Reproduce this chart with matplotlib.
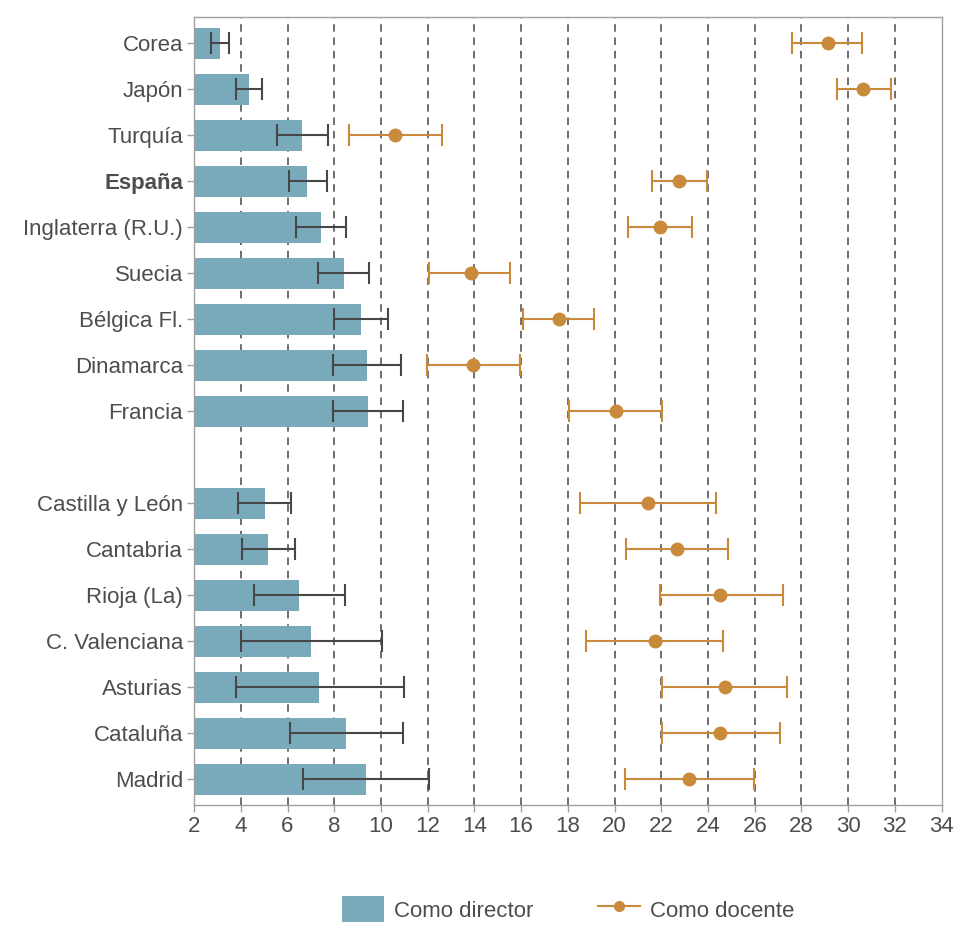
import matplotlib
matplotlib.use("Agg")
import matplotlib.pyplot as plt
from matplotlib.lines import Line2D
from matplotlib.patches import Patch
import numpy as np

plt.rcParams['font.family'] = ['Liberation Sans', 'DejaVu Sans']

# --- Data ---
countries = ["Corea", "Japón", "Turquía", "España", "Inglaterra (R.U.)",
             "Suecia", "Bélgica Fl.", "Dinamarca", "Francia"]
c_dir_mean = [3.10, 4.35, 6.60, 6.85, 7.45, 8.40, 9.15, 9.40, 9.45]
c_dir_low = [2.73, 3.80, 5.55, 6.05, 6.38, 7.32, 8.00, 7.95, 7.94]
c_dir_high = [3.50, 4.90, 7.75, 7.70, 8.52, 9.50, 10.30, 10.84, 10.95]
c_doc_mean = [29.13, 30.64, 10.60, 22.77, 21.94, 13.85, 17.60, 13.94, 20.05]
c_doc_low = [27.61, 29.50, 8.62, 21.59, 20.58, 12.06, 16.08, 11.95, 18.05]
c_doc_high = [30.59, 31.82, 12.63, 23.95, 23.32, 15.54, 19.10, 15.93, 22.05]

regions = ["Castilla y León", "Cantabria", "Rioja (La)", "C. Valenciana",
           "Asturias", "Cataluña", "Madrid"]
r_dir_mean = [5.03, 5.18, 6.49, 7.00, 7.36, 8.50, 9.35]
r_dir_low = [3.90, 4.06, 4.58, 4.02, 3.78, 6.12, 6.66]
r_dir_high = [6.15, 6.33, 8.44, 10.03, 10.98, 10.95, 12.05]
r_doc_mean = [21.44, 22.68, 24.51, 21.71, 24.71, 24.51, 23.20]
r_doc_low = [18.54, 20.50, 21.94, 18.76, 22.05, 22.02, 20.43]
r_doc_high = [24.36, 24.86, 27.23, 24.66, 27.39, 27.08, 25.95]

xticks = list(range(2, 35, 2))

# --- Assemble ---
labels = countries + regions
dir_mean = np.array(c_dir_mean + r_dir_mean)
dir_low = np.array(c_dir_low + r_dir_low)
dir_high = np.array(c_dir_high + r_dir_high)
doc_mean = np.array(c_doc_mean + r_doc_mean)
doc_low = np.array(c_doc_low + r_doc_low)
doc_high = np.array(c_doc_high + r_doc_high)
ypos = np.array(list(range(len(countries))) +
                [len(countries) + 1 + i for i in range(len(regions))])

BLUE = "#79aabb"
ORANGE = "#c98a3c"
DARK = "#474747"
TXT = "#4d4d4d"
FRAME = "#a0a0a0"
FS = 16

fig = plt.figure(figsize=(9.56, 9.25), dpi=100)
ax = fig.add_axes([0.203, 0.1297, 0.782, 0.852])

for x in xticks[1:-1]:
    ax.axvline(x, color="#555555", lw=1.2, ls=(0, (4.5, 3.5)), zorder=0)

ax.barh(ypos, dir_mean, height=0.68, color=BLUE, zorder=2)
ax.errorbar(dir_mean, ypos, xerr=[dir_mean - dir_low, dir_high - dir_mean],
            fmt="none", ecolor=DARK, elinewidth=1.5, capsize=8, capthick=1.5,
            zorder=3)
ax.errorbar(doc_mean, ypos, xerr=[doc_mean - doc_low, doc_high - doc_mean],
            fmt="o", color=ORANGE, ecolor=ORANGE, markersize=9,
            elinewidth=1.5, capsize=8, capthick=1.5, zorder=4)

ax.set_xlim(2, 34)
ax.set_ylim(16.56, -0.57)
ax.set_xticks(xticks)
ax.set_xticklabels([str(v) for v in xticks])
ax.set_yticks(ypos)
ax.set_yticklabels(labels)
for t in ax.get_yticklabels():
    if t.get_text() == "España":
        t.set_fontweight("bold")

ax.tick_params(axis="both", colors=FRAME, labelcolor=TXT, labelsize=FS,
               length=5, width=1)
ax.tick_params(axis="x", pad=3)
ax.tick_params(axis="y", pad=3)
for s in ax.spines.values():
    s.set_color(FRAME)
    s.set_linewidth(1)

handles = [Patch(facecolor=BLUE, edgecolor="none", label="Como director"),
           Line2D([0], [0], color=ORANGE, marker="o", markersize=7, lw=1.5,
                  label="Como docente")]
fig.legend(handles=handles, loc="center", bbox_to_anchor=(0.594, 0.017),
           ncol=2, frameon=False, fontsize=FS, handlelength=1.9,
           handleheight=1.45, columnspacing=2.9, handletextpad=0.45,
           labelcolor=TXT)

fig.savefig("out.png", dpi=100)
